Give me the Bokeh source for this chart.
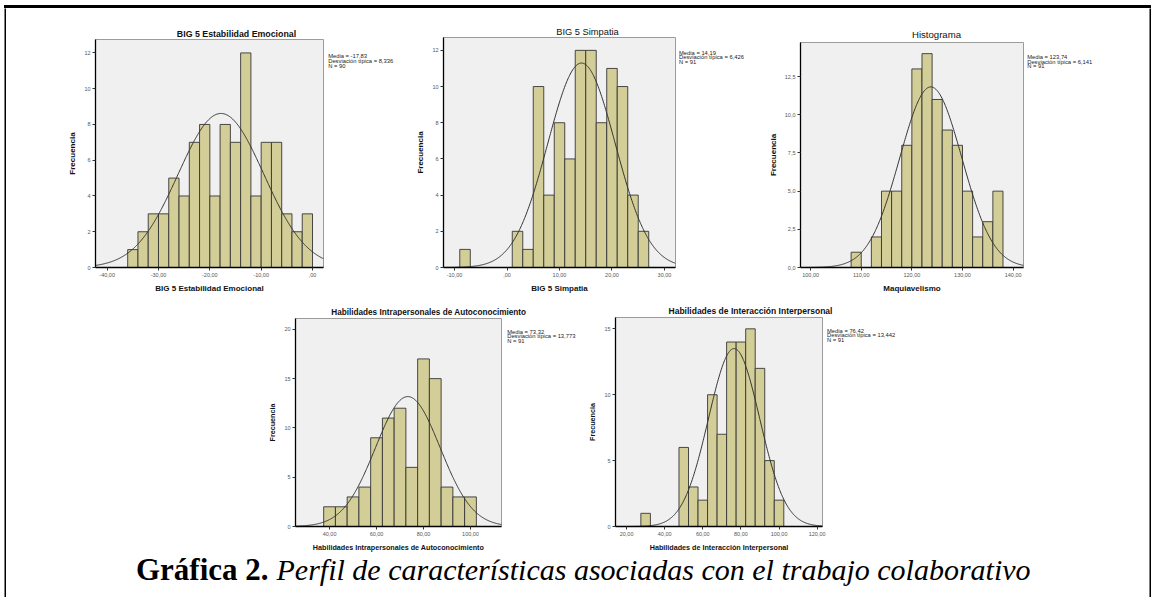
import numpy as np
from bokeh.plotting import figure
from bokeh.layouts import row, column
from bokeh.models import Range1d, FixedTicker, Spacer
from bokeh.embed import file_html
from bokeh.resources import INLINE
from bokeh.core.properties import value

SANS = "Liberation Sans"
SERIF = "Liberation Serif"

# ---------------- data ----------------
est_titulo = "BIG 5 Estabilidad Emocional"
est_eje = "BIG 5 Estabilidad Emocional"
est_izq = [-36, -34, -32, -30, -28, -26, -24, -22, -20, -18, -16, -14, -12, -10, -8, -6, -4, -2]
est_frec = [1, 2, 3, 3, 5, 4, 7, 8, 4, 8, 7, 12, 4, 7, 7, 3, 2, 3]
est_ancho = 2
est_media, est_dt, est_n = -17.83, 8.336, 90
est_leyenda = ["Media = -17,83", "Desviación típica = 8,336", "N = 90"]
est_xt = [-40, -30, -20, -10, 0]
est_xtl = ["-40,00", "-30,00", "-20,00", "-10,00", ",00"]
est_yt = [0, 2, 4, 6, 8, 10, 12]
est_ytl = ["0", "2", "4", "6", "8", "10", "12"]
est_xr = (-42.27, 2.14)
est_yr = (0, 12.75)

sim_titulo = "BIG 5 Simpatia"
sim_eje = "BIG 5 Simpatia"
sim_izq = [-9, 1, 3, 5, 7, 9, 11, 13, 15, 17, 19, 21, 23, 25]
sim_frec = [1, 2, 1, 10, 4, 8, 6, 12, 12, 8, 11, 10, 4, 2]
sim_ancho = 2
sim_media, sim_dt, sim_n = 14.19, 6.426, 91
sim_leyenda = ["Media = 14,19", "Desviación típica = 6,426", "N = 91"]
sim_xt = [-10, 0, 10, 20, 30]
sim_xtl = ["-10,00", ",00", "10,00", "20,00", "30,00"]
sim_yt = [0, 2, 4, 6, 8, 10, 12]
sim_ytl = ["0", "2", "4", "6", "8", "10", "12"]
sim_xr = (-12.1, 32.1)
sim_yr = (0, 12.71)

maq_titulo = "Histograma"
maq_eje = "Maquiavelismo"
maq_izq = [108, 112, 114, 116, 118, 120, 122, 124, 126, 128, 130, 132, 134, 136]
maq_frec = [1, 2, 5, 5, 8, 13, 14, 11, 9, 8, 5, 2, 3, 5]
maq_ancho = 2
maq_media, maq_dt, maq_n = 123.74, 6.141, 91
maq_leyenda = ["Media = 123,74", "Desviación típica = 6,141", "N = 91"]
maq_xt = [100, 110, 120, 130, 140]
maq_xtl = ["100,00", "110,00", "120,00", "130,00", "140,00"]
maq_yt = [0, 2.5, 5, 7.5, 10, 12.5]
maq_ytl = ["0,0", "2,5", "5,0", "7,5", "10,0", "12,5"]
maq_xr = (98.0, 142.05)
maq_yr = (0, 14.73)

aut_titulo = "Habilidades Intrapersonales de Autoconocimiento"
aut_eje = "Habilidades Intrapersonales de Autoconocimiento"
aut_izq = [37.5, 42.5, 47.5, 52.5, 57.5, 62.5, 67.5, 72.5, 77.5, 82.5, 87.5, 92.5, 97.5]
aut_frec = [2, 2, 3, 4, 9, 11, 12, 6, 17, 15, 4, 3, 3]
aut_ancho = 5
aut_media, aut_dt, aut_n = 73.32, 13.773, 91
aut_leyenda = ["Media = 73,32", "Desviación típica = 13,773", "N = 91"]
aut_xt = [40, 60, 80, 100]
aut_xtl = ["40,00", "60,00", "80,00", "100,00"]
aut_yt = [0, 5, 10, 15, 20]
aut_ytl = ["0", "5", "10", "15", "20"]
aut_xr = (25.5, 113.2)
aut_yr = (0, 21.1)

int_titulo = "Habilidades de Interacción Interpersonal"
int_eje = "Habilidades de Interacción Interpersonal"
int_izq = [27.5, 47.5, 52.5, 57.5, 62.5, 67.5, 72.5, 77.5, 82.5, 87.5, 92.5, 97.5]
int_frec = [1, 6, 3, 2, 10, 7, 14, 14, 15, 12, 5, 2]
int_ancho = 5
int_media, int_dt, int_n = 76.42, 13.442, 91
int_leyenda = ["Media = 76,42", "Desviación típica = 13,442", "N = 91"]
int_xt = [20, 40, 60, 80, 100, 120]
int_xtl = ["20,00", "40,00", "60,00", "80,00", "100,00", "120,00"]
int_yt = [0, 5, 10, 15]
int_ytl = ["0", "5", "10", "15"]
int_xr = (14.2, 122.8)
int_yr = (0, 15.86)

caption_bold = "Gráfica 2."
caption_italic = "Perfil de características asociadas con el trabajo colaborativo"


def blank(w, h, bt=0, bb=0, xr=None, yr=None, bg="white"):
    f = figure(width=w, height=h,
               x_range=Range1d(*(xr or (0, w))), y_range=Range1d(*(yr or (h, 0))),
               min_border_left=0, min_border_right=0, min_border_top=bt, min_border_bottom=bb,
               output_backend="svg", toolbar_location=None, title=None,
               x_axis_location=None, y_axis_location=None, outline_line_color=None,
               background_fill_color=bg, border_fill_color=bg)
    f.frame_align = False
    f.grid.visible = False
    return f


def panel(izq, frec, ancho, media, dt, n, xr, yr, xt, xtl, yt, ytl,
          eje_x, fw, fh, bl, br, bt, bb, eje_size):
    p = figure(width=bl + fw + br, height=bt + fh + bb,
               x_range=Range1d(*xr), y_range=Range1d(*yr),
               min_border_left=bl, min_border_right=br,
               min_border_top=bt, min_border_bottom=bb,
               output_backend="svg", toolbar_location=None, title=None,
               background_fill_color="#f0f0f0", border_fill_color="white")
    p.frame_align = False
    p.grid.visible = False
    p.outline_line_color = "#9c9c9c"
    p.outline_line_width = 1

    der = [a + ancho for a in izq]
    p.quad(left=izq, right=der, bottom=0, top=frec,
           fill_color="#d3ce97", line_color="#363636", line_width=0.9)

    xs = np.linspace(xr[0], xr[1], 400)
    ys = n * ancho / (dt * np.sqrt(2 * np.pi)) * np.exp(-0.5 * ((xs - media) / dt) ** 2)
    p.line(xs, ys, line_color="#333333", line_width=1)

    for ax in (p.xaxis[0], p.yaxis[0]):
        ax.axis_line_color = "black"
        ax.axis_line_width = 1.3
        ax.major_tick_line_color = "#333333"
        ax.major_tick_in = 0
        ax.major_tick_out = 3
        ax.minor_tick_line_color = None
        ax.major_label_text_font = SANS
        ax.major_label_text_font_size = "5.5px"
        ax.major_label_text_color = "#555555"
        ax.major_label_standoff = 2
        ax.axis_label_text_font = SANS
        ax.axis_label_text_font_style = "bold"
        ax.axis_label_text_font_size = eje_size
        ax.axis_label_text_color = "#111111"
        ax.axis_label_standoff = 4
    p.xaxis.ticker = FixedTicker(ticks=xt)
    p.xaxis.major_label_overrides = dict(zip(xt, xtl))
    p.yaxis.ticker = FixedTicker(ticks=yt)
    p.yaxis.major_label_overrides = dict(zip(yt, ytl))
    p.xaxis.axis_label = eje_x
    p.yaxis.axis_label = "Frecuencia"
    return p


def caja(lineas, w, fh, bt, bb, x0, y0, paso):
    f = blank(w, bt + fh + bb, bt, bb, (0, w), (fh, 0))
    f.text(x=[x0] * len(lineas), y=[y0 + i * paso for i in range(len(lineas))], text=lineas,
           text_font=value(SANS), text_font_size="5.8px", text_color="#222222",
           text_align="left", text_baseline="middle")
    return f


def titulo_fig(texto, w, h, cx, cy, size, bold):
    f = blank(w, h)
    f.text(x=[cx], y=[cy], text=[texto], text_font=value(SANS), text_font_size=size,
           text_font_style="bold" if bold else "normal", text_color="#111111",
           text_align="center", text_baseline="middle")
    return f


def bloque(tit, pan, cj):
    return column(tit, row(pan, cj))


# --- top row (y 8..298) ---
b1 = bloque(titulo_fig(est_titulo, 404, 30, 230, 25.3, "8.8px", True),
            panel(est_izq, est_frec, est_ancho, est_media, est_dt, est_n, est_xr, est_yr,
                  est_xt, est_xtl, est_yt, est_ytl, est_eje, 228, 228, 89, 3, 1, 31, "8px"),
            caja(est_leyenda, 84, 228, 1, 31, 1.7, 16, 5))
b2 = bloque(titulo_fig(sim_titulo, 350, 29, 177, 23.6, "9.3px", False),
            panel(sim_izq, sim_frec, sim_ancho, sim_media, sim_dt, sim_n, sim_xr, sim_yr,
                  sim_xt, sim_xtl, sim_yt, sim_ytl, sim_eje, 232, 230, 33, 3, 0, 31, "8px"),
            caja(sim_leyenda, 82, 230, 0, 31, 0.5, 15.3, 4.4))
b3 = bloque(titulo_fig(maq_titulo, 389, 32, 176, 26.3, "9.6px", False),
            panel(maq_izq, maq_frec, maq_ancho, maq_media, maq_dt, maq_n, maq_xr, maq_yr,
                  maq_xt, maq_xtl, maq_yt, maq_ytl, maq_eje, 223, 225, 40, 3, 2, 31, "8px"),
            caja(maq_leyenda, 123, 225, 2, 31, 0.7, 14.7, 4.3))
# --- bottom row (y 298..555) ---
b4 = bloque(titulo_fig(aut_titulo, 330, 18, 178.3, 13.7, "8.2px", True),
            panel(aut_izq, aut_frec, aut_ancho, aut_media, aut_dt, aut_n, aut_xr, aut_yr,
                  aut_xt, aut_xtl, aut_yt, aut_ytl, aut_eje, 206, 208, 45, 3, 2, 29, "7.2px"),
            caja(aut_leyenda, 76, 208, 2, 29, 2.7, 13, 4.5))
b5 = bloque(titulo_fig(int_titulo, 340, 17, 170, 12.7, "8.5px", True),
            panel(int_izq, int_frec, int_ancho, int_media, int_dt, int_n, int_xr, int_yr,
                  int_xt, int_xtl, int_yt, int_ytl, int_eje, 207, 209, 35, 4, 2, 29, "7.2px"),
            caja(int_leyenda, 94, 209, 2, 29, 0.5, 13, 4.5))

# --- caption (y 555..597) ---
cap = blank(1143, 42)
cap.text(x=[262], y=[13.5], text=[caption_bold], text_font=value(SERIF),
         text_font_style="bold", text_font_size="31px", text_align="right",
         text_baseline="middle", text_color="black")
cap.text(x=[270], y=[13.5], text=[caption_italic], text_font=value(SERIF),
         text_font_style="italic", text_font_size="30px", text_align="left",
         text_baseline="middle", text_color="black")

top_row = row(b1, b2, b3)
bottom_row = row(Spacer(width=244, height=257), b4, b5, Spacer(width=229, height=257))
inner = column(top_row, bottom_row, cap)

top_line = Spacer(width=1147, height=3, styles={"background-color": "black"})
root = column(Spacer(width=1156, height=5),
              row(Spacer(width=4, height=3), top_line),
              row(Spacer(width=4, height=589), blank(2, 589, bg="black"), inner,
                  blank(2, 589, bg="black")))

open("out.html", "w").write(file_html(root, INLINE))
